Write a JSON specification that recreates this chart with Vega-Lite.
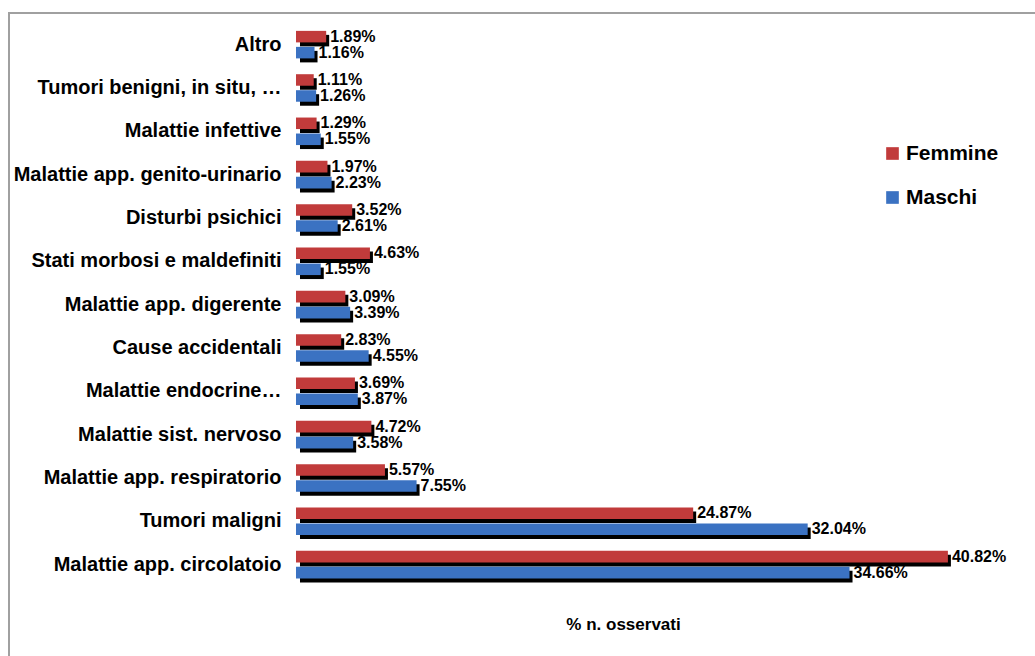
{
  "$schema": "https://vega.github.io/schema/vega-lite/v6.json",
  "width": 1031,
  "height": 650,
  "autosize": {"type": "none"},
  "padding": {"left": 9, "top": 13, "right": 0, "bottom": 0},
  "background": "white",
  "config": {
    "view": {"stroke": "#a0a0a0", "strokeWidth": 2},
    "font": "Liberation Sans"
  },
  "data": {
    "values": [
      {"cat": "Altro", "sex": "Femmine", "value": 0.0189},
      {"cat": "Altro", "sex": "Maschi", "value": 0.0116},
      {"cat": "Tumori benigni, in situ, …", "sex": "Femmine", "value": 0.0111},
      {"cat": "Tumori benigni, in situ, …", "sex": "Maschi", "value": 0.0126},
      {"cat": "Malattie infettive", "sex": "Femmine", "value": 0.0129},
      {"cat": "Malattie infettive", "sex": "Maschi", "value": 0.0155},
      {"cat": "Malattie app. genito-urinario", "sex": "Femmine", "value": 0.0197},
      {"cat": "Malattie app. genito-urinario", "sex": "Maschi", "value": 0.0223},
      {"cat": "Disturbi psichici", "sex": "Femmine", "value": 0.0352},
      {"cat": "Disturbi psichici", "sex": "Maschi", "value": 0.0261},
      {"cat": "Stati morbosi e maldefiniti", "sex": "Femmine", "value": 0.0463},
      {"cat": "Stati morbosi e maldefiniti", "sex": "Maschi", "value": 0.0155},
      {"cat": "Malattie app. digerente", "sex": "Femmine", "value": 0.0309},
      {"cat": "Malattie app. digerente", "sex": "Maschi", "value": 0.0339},
      {"cat": "Cause accidentali", "sex": "Femmine", "value": 0.0283},
      {"cat": "Cause accidentali", "sex": "Maschi", "value": 0.0455},
      {"cat": "Malattie endocrine…", "sex": "Femmine", "value": 0.0369},
      {"cat": "Malattie endocrine…", "sex": "Maschi", "value": 0.0387},
      {"cat": "Malattie sist. nervoso", "sex": "Femmine", "value": 0.0472},
      {"cat": "Malattie sist. nervoso", "sex": "Maschi", "value": 0.0358},
      {"cat": "Malattie app. respiratorio", "sex": "Femmine", "value": 0.0557},
      {"cat": "Malattie app. respiratorio", "sex": "Maschi", "value": 0.0755},
      {"cat": "Tumori maligni", "sex": "Femmine", "value": 0.2487},
      {"cat": "Tumori maligni", "sex": "Maschi", "value": 0.3204},
      {"cat": "Malattie app. circolatoio", "sex": "Femmine", "value": 0.4082},
      {"cat": "Malattie app. circolatoio", "sex": "Maschi", "value": 0.3466}
    ]
  },
  "encoding": {
    "y": {
      "field": "cat",
      "type": "nominal",
      "sort": ["Altro", "Tumori benigni, in situ, …", "Malattie infettive", "Malattie app. genito-urinario", "Disturbi psichici", "Stati morbosi e maldefiniti", "Malattie app. digerente", "Cause accidentali", "Malattie endocrine…", "Malattie sist. nervoso", "Malattie app. respiratorio", "Tumori maligni", "Malattie app. circolatoio"],
      "scale": {"paddingInner": 0, "paddingOuter": 1, "align": 0.115},
      "axis": {
        "title": null,
        "domain": false,
        "ticks": false,
        "grid": false,
        "labelPadding": -272,
        "labelFontSize": 20,
        "labelFontWeight": "bold",
        "labelColor": "black",
        "labelLimit": 600,
        "labelFont": "Liberation Sans"
      }
    },
    "x": {
      "field": "value",
      "type": "quantitative",
      "scale": {"domain": [-0.17971, 0.46587], "nice": false, "zero": false},
      "axis": {
        "title": "% n. osservati",
        "labels": false,
        "ticks": false,
        "domain": false,
        "grid": false,
        "titlePadding": -47,
        "titleFontSize": 17,
        "titleFontWeight": "bold",
        "titleColor": "black",
        "titleX": 614
      }
    }
  },
  "layer": [
    {
      "transform": [{"filter": "datum.sex === 'Femmine'"}],
      "mark": {"type": "bar", "color": "black", "height": {"band": 0.266}, "yOffset": -4, "y2Offset": -4, "xOffset": 3, "x2Offset": 4},
      "encoding": {"x2": {"datum": 0}}
    },
    {
      "transform": [{"filter": "datum.sex === 'Maschi'"}],
      "mark": {"type": "bar", "color": "black", "height": {"band": 0.266}, "yOffset": 12, "y2Offset": 12, "xOffset": 3, "x2Offset": 4},
      "encoding": {"x2": {"datum": 0}}
    },
    {
      "transform": [{"filter": "datum.sex === 'Femmine'"}],
      "mark": {"type": "bar", "height": {"band": 0.266}, "yOffset": -8, "y2Offset": -8},
      "encoding": {
        "x2": {"datum": 0},
        "color": {
          "field": "sex",
          "type": "nominal",
          "scale": {"domain": ["Femmine", "Maschi"], "range": ["#C13B3B", "#3B72C2"]},
          "legend": {
            "orient": "none",
            "legendX": 873,
            "legendY": 130,
            "title": null,
            "symbolType": "square",
            "symbolSize": 160,
            "symbolStrokeWidth": 0,
            "labelFontSize": 21,
            "labelFontWeight": "bold",
            "labelColor": "black",
            "labelOffset": 3,
            "rowPadding": 22
          }
        }
      }
    },
    {
      "transform": [{"filter": "datum.sex === 'Maschi'"}],
      "mark": {"type": "bar", "height": {"band": 0.266}, "yOffset": 8, "y2Offset": 8},
      "encoding": {
        "x2": {"datum": 0},
        "color": {"field": "sex", "type": "nominal"}
      }
    },
    {
      "transform": [{"filter": "datum.sex === 'Femmine'"}],
      "mark": {"type": "text", "align": "left", "baseline": "middle", "dx": 4, "dy": -8, "fontSize": 16, "fontWeight": "bold", "color": "black"},
      "encoding": {"text": {"field": "value", "type": "quantitative", "format": ".2%"}}
    },
    {
      "transform": [{"filter": "datum.sex === 'Maschi'"}],
      "mark": {"type": "text", "align": "left", "baseline": "middle", "dx": 4, "dy": 8, "fontSize": 16, "fontWeight": "bold", "color": "black"},
      "encoding": {"text": {"field": "value", "type": "quantitative", "format": ".2%"}}
    }
  ]
}
